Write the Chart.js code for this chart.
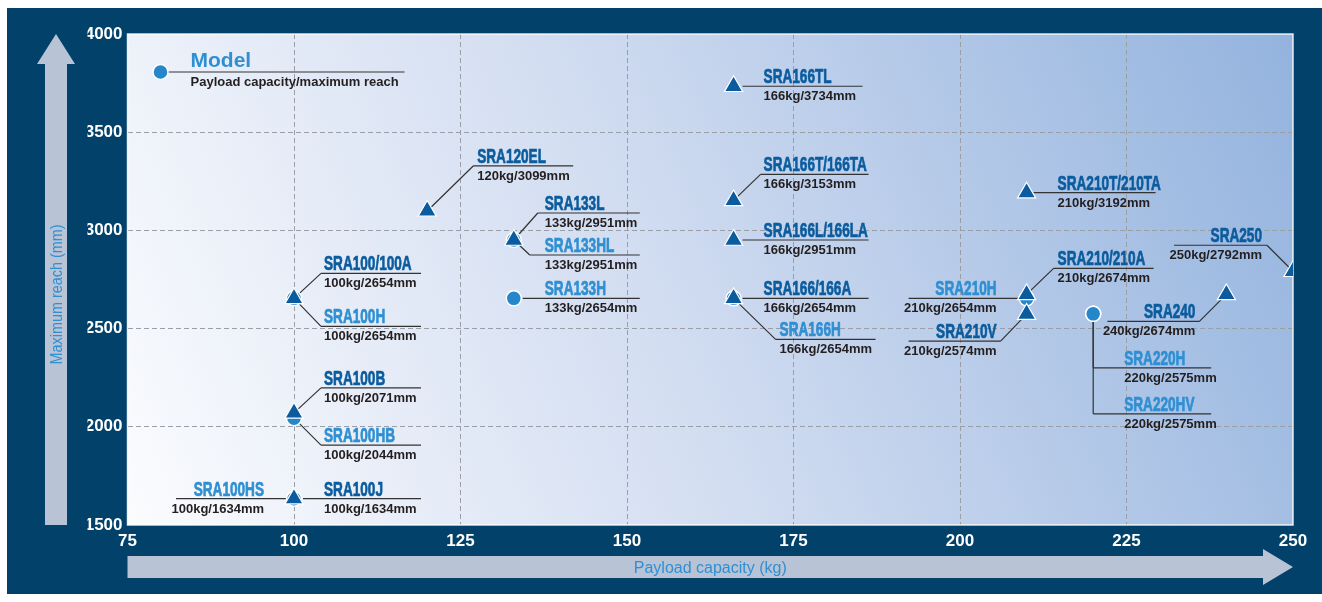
<!DOCTYPE html>
<html lang="en">
<head>
<meta charset="UTF-8">
<title>Payload capacity / maximum reach</title>
<script src="https://cdn.jsdelivr.net/npm/chart.js"></script>
<style>
  body { margin: 0; background: #fff; }
  #wrap { width: 1322px; height: 602px; }
</style>
</head>
<body>
<div id="wrap"><canvas id="chart" width="1322" height="602"></canvas></div>
<script>
// --- data ---
const xTicks = [75, 100, 125, 150, 175, 200, 225, 250];
const yTicks = [1500, 2000, 2500, 3000, 3500, 4000];

// standard models (triangles)
const stdModels = ['SRA100/100A', 'SRA100B', 'SRA100J', 'SRA120EL', 'SRA133L', 'SRA166TL', 'SRA166T/166TA',
                   'SRA166L/166LA', 'SRA166/166A', 'SRA210T/210TA', 'SRA210/210A', 'SRA210V', 'SRA240', 'SRA250'];
const stdPayload = [100, 100, 100, 120, 133, 166, 166, 166, 166, 210, 210, 210, 240, 250];
const stdReach = [2654, 2071, 1634, 3099, 2951, 3734, 3153, 2951, 2654, 3192, 2674, 2574, 2674, 2792];

// H series (circles)
const hModels = ['SRA100H', 'SRA100HB', 'SRA100HS', 'SRA133HL', 'SRA133H', 'SRA166H', 'SRA210H', 'SRA220H', 'SRA220HV'];
const hPayload = [100, 100, 100, 133, 133, 166, 210, 220, 220];
const hReach = [2654, 2044, 1634, 2951, 2654, 2654, 2654, 2575, 2575];

// callout placement in px relative to the marker
// dy = label line, x0..x1 = line span, tx = text anchor (negative -> right aligned)
const callouts = {
  'SRA100/100A':   { dy: -25, x0: 27,   x1: 127, tx: 30 },
  'SRA100H':       { dy: 28,  x0: 27,   x1: 127, tx: 30 },
  'SRA100B':       { dy: -25, x0: 27,   x1: 127, tx: 30 },
  'SRA100HB':      { dy: 27,  x0: 27,   x1: 127, tx: 30 },
  'SRA100J':       { dy: 0,   x0: 9,    x1: 127, tx: 30 },
  'SRA100HS':      { dy: 0,   x0: -118, x1: -7,  tx: -30 },
  'SRA120EL':      { dy: -45, x0: 46,   x1: 146, tx: 50 },
  'SRA133L':       { dy: -27, x0: 24,   x1: 126, tx: 31 },
  'SRA133HL':      { dy: 15,  x0: 16,   x1: 126, tx: 31 },
  'SRA133H':       { dy: 0,   x0: 9,    x1: 126, tx: 31 },
  'SRA166TL':      { dy: 0,   x0: 9,    x1: 129, tx: 30 },
  'SRA166T/166TA': { dy: -26, x0: 27,   x1: 135, tx: 30 },
  'SRA166L/166LA': { dy: 0,   x0: 9,    x1: 135, tx: 30 },
  'SRA166/166A':   { dy: 0,   x0: 9,    x1: 135, tx: 30 },
  'SRA166H':       { dy: 41,  x0: 42,   x1: 142, tx: 46 },
  'SRA210T/210TA': { dy: 0,   x0: 7,    x1: 129, tx: 31 },
  'SRA210/210A':   { dy: -26, x0: 27,   x1: 127, tx: 31 },
  'SRA210H':       { dy: 0,   x0: -118, x1: -8,  tx: -30 },
  'SRA210V':       { dy: 27,  x0: -118, x1: -26, tx: -30 },
  'SRA220H':       { dy: 54,  x0: 0,    x1: 118, tx: 31, drop: true },
  'SRA220HV':      { dy: 100, x0: 0,    x1: 118, tx: 31, drop: true },
  'SRA240':        { dy: 27,  x0: -119, x1: -27, tx: -31 },
  'SRA250':        { dy: -26, x0: -119, x1: -26, tx: -31 }
};

const NAVY = '#01416a';
const DARK_BLUE = '#0b5c9e';
const LIGHT_BLUE = '#2f8fd3';
const ARROW = '#b8c3d6';
const FONT = '"Liberation Sans", Arial, sans-serif';

function condText(ctx, text, x, y, align, font, sx, color, heavy) {
  ctx.save();
  ctx.translate(x, y);
  ctx.scale(sx, 1);
  ctx.font = font;
  ctx.fillStyle = color;
  ctx.textAlign = align;
  ctx.textBaseline = 'alphabetic';
  ctx.fillText(text, 0, 0);
  if (heavy) {
    ctx.strokeStyle = color;
    ctx.lineWidth = heavy;
    ctx.strokeText(text, 0, 0);
  }
  ctx.restore();
}

// --- background, arrows, axis titles ---
const backdrop = {
  id: 'backdrop',
  beforeDraw(chart) {
    const { ctx, chartArea: a } = chart;
    ctx.save();
    ctx.fillStyle = '#fff';
    ctx.fillRect(0, 0, chart.width, chart.height);
    ctx.fillStyle = NAVY;
    ctx.fillRect(7, 8, chart.width - 7, 586);

    const g = ctx.createLinearGradient(a.left, a.bottom, a.right, a.top);
    g.addColorStop(0, '#fbfcfe');
    g.addColorStop(0.45, '#d2ddf1');
    g.addColorStop(1, '#93b3de');
    ctx.fillStyle = g;
    ctx.fillRect(a.left, a.top, a.right - a.left, a.bottom - a.top);

    // vertical arrow
    const cx = a.left - 71.5;
    ctx.fillStyle = ARROW;
    ctx.beginPath();
    ctx.moveTo(cx, a.top);
    ctx.lineTo(cx + 19, a.top + 30);
    ctx.lineTo(cx + 11, a.top + 30);
    ctx.lineTo(cx + 11, a.bottom);
    ctx.lineTo(cx - 11, a.bottom);
    ctx.lineTo(cx - 11, a.top + 30);
    ctx.lineTo(cx - 19, a.top + 30);
    ctx.closePath();
    ctx.fill();

    // horizontal arrow
    const cy = a.bottom + 42;
    ctx.beginPath();
    ctx.moveTo(a.left, cy - 11);
    ctx.lineTo(a.right - 30, cy - 11);
    ctx.lineTo(a.right - 30, cy - 18);
    ctx.lineTo(a.right, cy);
    ctx.lineTo(a.right - 30, cy + 18);
    ctx.lineTo(a.right - 30, cy + 11);
    ctx.lineTo(a.left, cy + 11);
    ctx.closePath();
    ctx.fill();

    // axis titles
    ctx.save();
    ctx.translate(cx + 6, (a.top + 30 + a.bottom) / 2);
    ctx.rotate(-Math.PI / 2);
    condText(ctx, 'Maximum reach (mm)', 0, 0, 'center', '16px ' + FONT, 0.9, LIGHT_BLUE);
    ctx.restore();
    condText(ctx, 'Payload capacity (kg)', (a.left + a.right) / 2, cy + 6, 'center', '16px ' + FONT, 1.0, LIGHT_BLUE);
    ctx.restore();
  }
};

// --- callouts: leader lines, model names, specs ---
const labels = {
  id: 'labels',
  beforeDatasetsDraw(chart) {
    const { ctx, chartArea: a } = chart;
    ctx.save();
    ctx.strokeStyle = 'rgba(255,255,255,0.85)';
    ctx.lineWidth = 1.5;
    ctx.strokeRect(a.left, a.top, a.right - a.left, a.bottom - a.top);

    const groups = [
      { names: stdModels, pay: stdPayload, reach: stdReach, meta: chart.getDatasetMeta(0), color: DARK_BLUE },
      { names: hModels, pay: hPayload, reach: hReach, meta: chart.getDatasetMeta(1), color: LIGHT_BLUE }
    ];
    groups.forEach(grp => {
      grp.names.forEach((name, i) => {
        const c = callouts[name];
        const el = grp.meta.data[i];
        const mx = el.x, my = el.y, ly = my + c.dy;
        ctx.strokeStyle = '#333';
        ctx.lineWidth = 1.2;
        ctx.beginPath();
        if (c.drop) {
          ctx.moveTo(mx, my);
          ctx.lineTo(mx, ly);
        } else if (c.dy !== 0) {
          ctx.moveTo(mx, my);
          ctx.lineTo(mx + (c.tx < 0 ? c.x1 : c.x0), ly);
        }
        ctx.moveTo(mx + c.x0, ly);
        ctx.lineTo(mx + c.x1, ly);
        ctx.stroke();

        const align = c.tx < 0 ? 'right' : 'left';
        condText(ctx, name, mx + c.tx, ly - 3, align, 'bold 20px ' + FONT, 0.68, grp.color, 0.7);
        condText(ctx, grp.pay[i] + 'kg/' + grp.reach[i] + 'mm', mx + c.tx, ly + 14, align, 'bold 13px ' + FONT, 1, '#231f20');
      });
    });

    // key
    const kx = a.left + 33, ky = a.top + 38;
    ctx.strokeStyle = '#333';
    ctx.lineWidth = 1.2;
    ctx.beginPath();
    ctx.moveTo(kx, ky);
    ctx.lineTo(kx + 244, ky);
    ctx.stroke();
    ctx.fillStyle = '#2586c9';
    ctx.strokeStyle = '#fff';
    ctx.lineWidth = 1.5;
    ctx.beginPath();
    ctx.arc(kx, ky, 7.5, 0, Math.PI * 2);
    ctx.fill();
    ctx.stroke();
    condText(ctx, 'Model', kx + 30, ky - 5, 'left', 'bold 21px ' + FONT, 1, LIGHT_BLUE);
    condText(ctx, 'Payload capacity/maximum reach', kx + 30, ky + 14, 'left', 'bold 13px ' + FONT, 1, '#231f20');
    ctx.restore();
  }
};

const tickFont = { family: '"Liberation Sans Narrow", "Liberation Sans", Arial, sans-serif', size: 17, weight: 'bold' };
const gridColor = c => (c.index === 0 || c.index === c.chart.scales[c.scale.id].ticks.length - 1) ? 'rgba(0,0,0,0)' : '#9a9ea6';

new Chart(document.getElementById('chart'), {
  type: 'scatter',
  data: {
    datasets: [
      {
        label: 'Models',
        data: stdPayload.map((p, i) => ({ x: p, y: stdReach[i] })),
        pointStyle: 'triangle',
        pointRadius: 10.5,
        backgroundColor: DARK_BLUE,
        borderColor: '#fff',
        borderWidth: 1.2,
        order: 0
      },
      {
        label: 'H models',
        data: hPayload.map((p, i) => ({ x: p, y: hReach[i] })),
        pointStyle: 'circle',
        pointRadius: 7.5,
        backgroundColor: '#2586c9',
        borderColor: '#fff',
        borderWidth: 1.5,
        order: 1
      }
    ]
  },
  options: {
    responsive: false,
    devicePixelRatio: 1,
    animation: false,
    events: [],
    layout: { padding: { left: 87.5, right: 29, top: 34, bottom: 47 } },
    plugins: { legend: { display: false }, tooltip: { enabled: false } },
    scales: {
      x: {
        type: 'linear',
        min: xTicks[0],
        max: xTicks[xTicks.length - 1],
        afterBuildTicks: s => { s.ticks = xTicks.map(v => ({ value: v })); },
        afterFit: s => { s.height = 30; },
        ticks: { color: '#fff', font: tickFont, padding: 6, maxRotation: 0, callback: v => String(v) },
        grid: { color: gridColor, drawTicks: false, lineWidth: 1 },
        border: { display: false, dash: [5, 3] }
      },
      y: {
        type: 'linear',
        min: yTicks[0],
        max: yTicks[yTicks.length - 1],
        afterBuildTicks: s => { s.ticks = yTicks.map(v => ({ value: v })); },
        afterFit: s => { s.width = 40; },
        ticks: { color: '#fff', font: tickFont, padding: 5, callback: v => String(v) },
        grid: { color: gridColor, drawTicks: false, lineWidth: 1 },
        border: { display: false, dash: [5, 3] }
      }
    }
  },
  plugins: [backdrop, labels]
});
</script>
</body>
</html>
